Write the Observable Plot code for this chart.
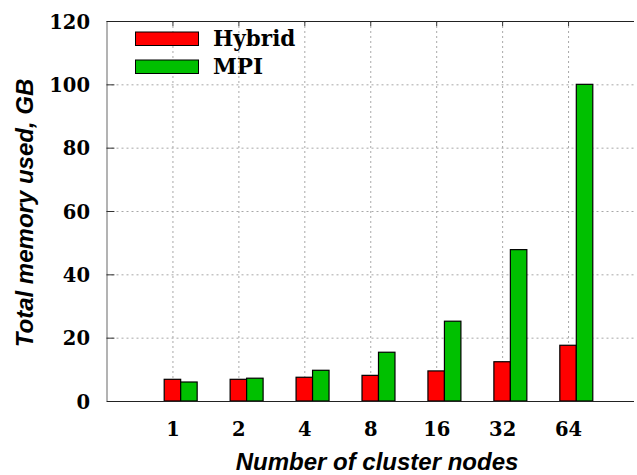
<!DOCTYPE html>
<html>
<head>
<meta charset="utf-8">
<script src="https://cdn.jsdelivr.net/npm/d3@7"></script>
<script src="https://cdn.jsdelivr.net/npm/@observablehq/plot@0.6"></script>
<style>
  html, body { margin: 0; padding: 0; background: #fff; }
</style>
</head>
<body>
<div id="chart"></div>
<script>
const categories = ["1", "2", "4", "8", "16", "32", "64"];
const hybrid = [6.85, 6.85, 7.5, 8.1, 9.5, 12.4, 17.6];
const mpi = [6.0, 7.2, 9.7, 15.4, 25.2, 47.8, 100];
const yTicks = [0, 20, 40, 60, 80, 100, 120];
const seriesNames = ["Hybrid", "MPI"];
const seriesColors = ["#ff0000", "#00c000"];

const idx = categories.map((_, i) => i);
const hybridData = categories.map((c, i) => ({i, cat: c, v: hybrid[i]}));
const mpiData = categories.map((c, i) => ({i, cat: c, v: mpi[i]}));

const serif = "DejaVu Serif";
const sans = "Liberation Sans";
const gridStyle = {stroke: "#a8a8a8", strokeOpacity: 1, strokeDasharray: "2,3", strokeWidth: 1};

const chart = Plot.plot({
  width: 637,
  height: 475,
  marginLeft: 106.5,
  marginRight: 3,
  marginTop: 21,
  marginBottom: 74,
  style: {background: "#fff"},
  x: {type: "linear", domain: [-1, 7], axis: null},
  y: {domain: [0, 120], axis: null},
  marks: [
    Plot.gridY([20, 40, 60, 80, 100], gridStyle),
    Plot.gridX(idx, gridStyle),
    Plot.rectY(hybridData, {
      x1: d => d.i - 0.125, x2: d => d.i + 0.125, y1: 0, y2: "v",
      fill: seriesColors[0], stroke: "#000", strokeWidth: 1.2
    }),
    Plot.rectY(mpiData, {
      x1: d => d.i + 0.125, x2: d => d.i + 0.375, y1: 0, y2: "v",
      fill: seriesColors[1], stroke: "#000", strokeWidth: 1.2
    }),
    Plot.ruleX([-1], {stroke: "#808080", strokeWidth: 1.2}),
    Plot.ruleY([0], {stroke: "#222", strokeWidth: 1.2}),
    Plot.ruleY([120], {stroke: "#222", strokeWidth: 1.2}),
    Plot.ruleY([20, 40, 60, 80, 100], {x1: -1, x2: -0.88, stroke: "#333", strokeWidth: 1}),
    Plot.ruleX(idx, {y1: 120, y2: 118.4, stroke: "#333", strokeWidth: 1}),
    // y tick labels
    Plot.text(yTicks, {
      frameAnchor: "left", y: d => d, dx: -17, dy: 1,
      textAnchor: "end", lineAnchor: "middle",
      fontSize: 19.5, fontFamily: serif, fontWeight: "bold", fill: "#000"
    }),
    // x tick labels
    Plot.text(idx, {
      frameAnchor: "bottom", x: d => d, text: d => categories[d], dy: 21,
      textAnchor: "middle", lineAnchor: "top",
      fontSize: 19.5, fontFamily: serif, fontWeight: "bold", fill: "#000"
    }),
    Plot.text(["Total memory used, GB"], {
      frameAnchor: "left", rotate: -90, dx: 25 - 106.5, dy: 1.5,
      textAnchor: "middle", lineAnchor: "middle",
      fontSize: 24, fontFamily: sans, fontWeight: "bold", fontStyle: "italic", fill: "#000"
    }),
    Plot.text(["Number of cluster nodes"], {
      frameAnchor: "bottom", dx: 376.5 - 370.25, dy: 462 - 401,
      textAnchor: "middle", lineAnchor: "middle",
      fontSize: 24, fontFamily: sans, fontWeight: "bold", fontStyle: "italic", fill: "#000"
    })
  ]
});

// Legend (inside the plot, top-left)
const svg = d3.select(chart);
const legend = svg.append("g").attr("text-anchor", "start");
seriesNames.forEach((name, k) => {
  const y0 = 32 + k * 28;
  legend.append("rect")
    .attr("x", 135.5).attr("y", y0).attr("width", 63).attr("height", 13.5)
    .style("fill", seriesColors[k]).style("stroke", "#000").style("stroke-width", "1px");
  legend.append("text")
    .attr("x", 213).attr("y", y0 + 14)
    .style("text-anchor", "start")
    .style("font-family", serif).style("font-weight", "bold").style("font-size", "21.5px")
    .style("fill", "#000")
    .text(name);
});

document.getElementById("chart").appendChild(chart);
</script>
</body>
</html>
